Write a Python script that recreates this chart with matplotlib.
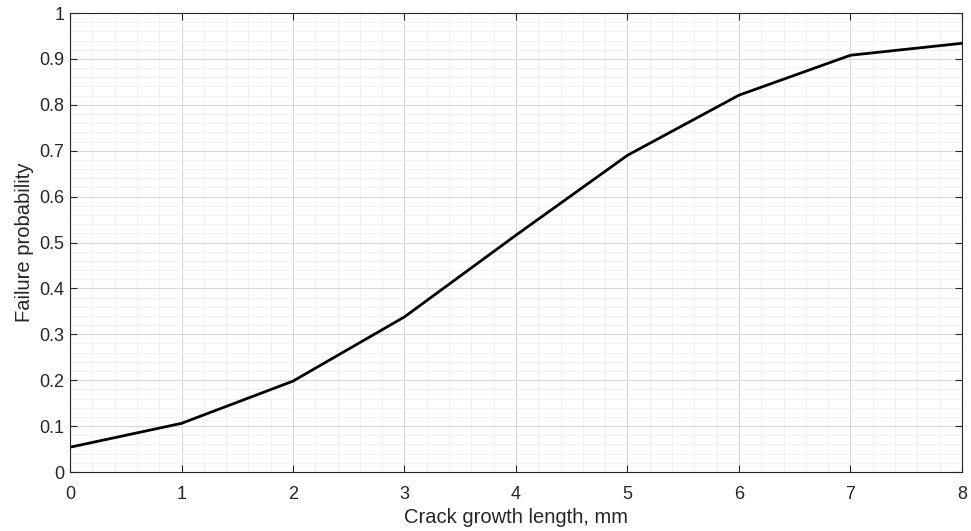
import matplotlib
matplotlib.use("Agg")
import matplotlib.pyplot as plt
from matplotlib.ticker import MultipleLocator

plt.rcParams['font.family'] = ['Liberation Sans', 'DejaVu Sans']

crack_length = [0, 1, 2, 3, 4, 5, 6, 7, 8]
failure_prob = [0.054, 0.106, 0.198, 0.338, 0.516, 0.690, 0.821, 0.908, 0.934]
x_ticks = [0, 1, 2, 3, 4, 5, 6, 7, 8]
y_ticks = [0, 0.1, 0.2, 0.3, 0.4, 0.5, 0.6, 0.7, 0.8, 0.9, 1]
y_labels = ['0', '0.1', '0.2', '0.3', '0.4', '0.5', '0.6', '0.7', '0.8', '0.9', '1']

fig = plt.figure(figsize=(9.71, 5.31), dpi=100)
ax = fig.add_axes([0.0721, 0.1111, 0.9186, 0.8644])

ax.plot(crack_length, failure_prob, color='black', linewidth=2)
ax.set_xlim(0, 8)
ax.set_ylim(0, 1)
ax.set_xticks(x_ticks)
ax.set_xticklabels([str(v) for v in x_ticks])
ax.set_yticks(y_ticks)
ax.set_yticklabels(y_labels)
ax.xaxis.set_minor_locator(MultipleLocator(0.2))
ax.yaxis.set_minor_locator(MultipleLocator(0.02))
ax.grid(which='major', color='#d9d9d9', linewidth=0.8)
ax.grid(which='minor', color='#efefef', linewidth=0.6)
ax.set_axisbelow(True)
ax.tick_params(which='major', direction='in', top=True, right=True, length=5,
               labelsize=13, colors='#262626')
ax.tick_params(axis='x', which='major', pad=10)
ax.tick_params(axis='y', which='major', pad=4)
ax.tick_params(which='minor', length=0)
for s in ax.spines.values():
    s.set_color('#262626')
    s.set_linewidth(0.8)
ax.set_xlabel('Crack growth length, mm', fontsize=14.5, color='#262626', labelpad=4)
ax.set_ylabel('Failure probability', fontsize=14.5, color='#262626', labelpad=4)

fig.savefig('out.png', dpi=100)
